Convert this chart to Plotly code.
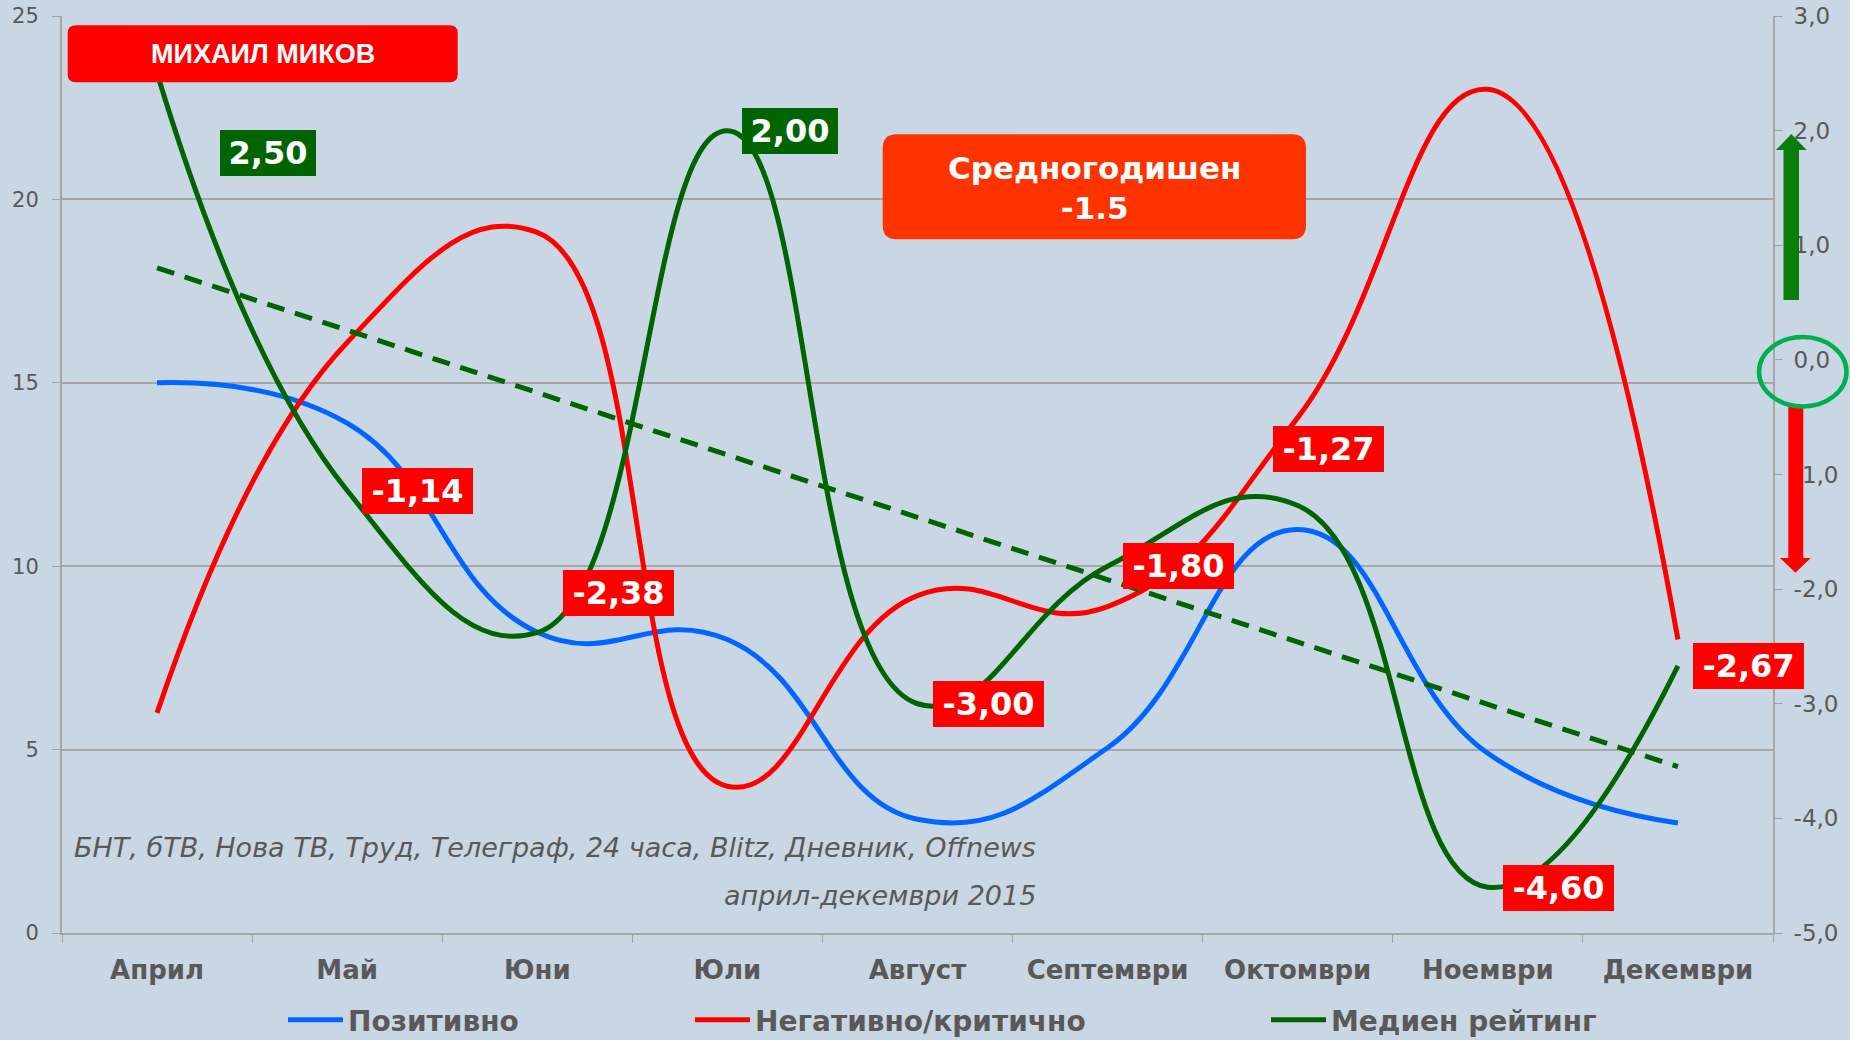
import numpy as np
import plotly.graph_objects as go

# ---------------- data ----------------
months = ["Април", "Май", "Юни", "Юли", "Август", "Септември", "Октомври", "Ноември", "Декември"]
positive = [15.0, 13.9, 8.2, 8.0, 3.1, 5.05, 11.0, 4.9, 3.0]
negative = [6.0, 16.1, 19.1, 4.0, 9.2, 8.9, 14.05, 23.0, 8.0]
rating = [2.50, -1.14, -2.38, 2.00, -3.00, -1.80, -1.27, -4.60, -2.67]
series_names = ["Позитивно", "Негативно/критично", "Медиен рейтинг"]
left_ticks = [0, 5, 10, 15, 20, 25]
right_ticks = [-5, -4, -3, -2, -1, 0, 1, 2, 3]
right_ticktext = [f"{v:.1f}".replace(".", ",") for v in right_ticks]
title_text = "МИХАИЛ МИКОВ"
average_text = "Средногодишен<br>-1.5"
source_line1 = "БНТ, бТВ, Нова ТВ, Труд, Телеграф, 24 часа, Blitz, Дневник, Offnews"
source_line2 = "април-декември 2015"

# label offsets (pixels) relative to each rating point
label_dx = [111, 70, 81, 63, 71, 71, 31, 71, 71]
label_dy = [-80, 0, 40, 0, 0, 0, 56, -1, 0]

# ---------------- layout geometry ----------------
W, H = 1850, 1040
ML, MR, MT, MB = 62, 77, 16, 107
PW, PH = W - ML - MR, H - MT - MB

def xp(px):
    return (px - ML) / PW

def yp(py):
    return (H - MB - py) / PH

def rrect(x0, y0, x1, y1, r):
    rx, ry = r / PW, r / PH
    a, b, c, d = xp(x0), xp(x1), yp(y1), yp(y0)  # a<b, c<d
    return (f"M{a+rx},{c} L{b-rx},{c} Q{b},{c} {b},{c+ry} L{b},{d-ry} Q{b},{d} {b-rx},{d} "
            f"L{a+rx},{d} Q{a},{d} {a},{d-ry} L{a},{c+ry} Q{a},{c} {a+rx},{c} Z")

def poly(pts):
    return "M" + " L".join(f"{xp(x)},{yp(y)}" for x, y in pts) + " Z"

GREEN = "#006400"
RED = "#FF0000"
BLUE = "#0066FF"
GRAY = "#595959"
AXIS = "#A6A6A6"
FONT = "DejaVu Sans"
SMOOTH = 1.3

# trend line of the rating series (linear regression)
xi = np.arange(len(months))
coef = np.polyfit(xi, rating, 1)
trend = np.polyval(coef, xi)

fig = go.Figure()
fig.add_trace(go.Scatter(x=months, y=positive, name=series_names[0], mode="lines",
                         line=dict(color=BLUE, width=5, shape="spline", smoothing=SMOOTH),
                         legend="legend"))
fig.add_trace(go.Scatter(x=months, y=negative, name=series_names[1], mode="lines",
                         line=dict(color=RED, width=5, shape="spline", smoothing=SMOOTH),
                         legend="legend2"))
fig.add_trace(go.Scatter(x=months, y=trend, mode="lines", showlegend=False, yaxis="y2",
                         line=dict(color=GREEN, width=5, dash="18px,11px")))
fig.add_trace(go.Scatter(x=months, y=rating, name=series_names[2], mode="lines", yaxis="y2",
                         line=dict(color=GREEN, width=5, shape="spline", smoothing=SMOOTH),
                         legend="legend3"))

annotations = []
for i, v in enumerate(rating):
    pos = v > 0
    annotations.append(dict(
        x=months[i], y=v, xref="x", yref="y2", showarrow=False,
        text=f"<b>{v:.2f}</b>".replace(".", ","),
        font=dict(family=FONT, size=32, color="white"),
        bgcolor=GREEN if pos else RED, borderwidth=0, borderpad=0,
        width=96 if pos else 111, height=46,
        xanchor="center", yanchor="middle",
        xshift=label_dx[i], yshift=label_dy[i]))

annotations.append(dict(x=xp(262.7), y=yp(54), xref="paper", yref="paper", showarrow=False,
                        text=f"<b>{title_text}</b>",
                        font=dict(family="Liberation Sans", size=27, color="white"),
                        xanchor="center", yanchor="middle"))
annotations.append(dict(x=xp(1094), y=yp(188), xref="paper", yref="paper", showarrow=False,
                        text=f"<b>{average_text}</b>",
                        font=dict(family=FONT, size=31, color="white"),
                        xanchor="center", yanchor="middle"))
annotations.append(dict(x=xp(1038), y=yp(847), xref="paper", yref="paper", showarrow=False,
                        text=source_line1, font=dict(family=FONT, size=27, color=GRAY, style="italic"),
                        xanchor="right", yanchor="middle"))
annotations.append(dict(x=xp(1038), y=yp(895), xref="paper", yref="paper", showarrow=False,
                        text=source_line2, font=dict(family=FONT, size=27, color=GRAY, style="italic"),
                        xanchor="right", yanchor="middle"))

shapes = [
    dict(type="path", xref="paper", yref="paper", path=rrect(67.7, 25.3, 457.7, 82.3, 8),
         fillcolor="#FF0000", line=dict(width=0)),
    dict(type="path", xref="paper", yref="paper", path=rrect(882.7, 134.3, 1306, 239.3, 14),
         fillcolor="#FF3300", line=dict(width=0)),
    dict(type="path", xref="paper", yref="paper",
         path=poly([(1783.5, 300), (1799, 300), (1799, 150), (1806.7, 150), (1791.3, 134),
                    (1776, 150), (1783.5, 150)]),
         fillcolor="#0B7D0B", line=dict(width=0)),
    dict(type="path", xref="paper", yref="paper",
         path=poly([(1788.3, 406), (1803.3, 406), (1803.3, 558), (1810.7, 558), (1795.5, 572.7),
                    (1780, 558), (1788.3, 558)]),
         fillcolor="#FF0000", line=dict(width=0)),
    dict(type="circle", xref="paper", yref="paper", x0=xp(1759), x1=xp(1846.5),
         y0=yp(406.5), y1=yp(337), line=dict(color="#00B050", width=4.5)),
]

legend_common = dict(orientation="h", yanchor="middle", y=yp(1020), xanchor="left",
                     bgcolor="rgba(0,0,0,0)", itemwidth=55,
                     font=dict(family=FONT, size=28, color=GRAY, weight="bold"))

fig.update_layout(
    width=W, height=H,
    margin=dict(l=ML, r=MR, t=MT, b=MB, autoexpand=False),
    paper_bgcolor="#C9D6E3", plot_bgcolor="#C9D6E3",
    showlegend=True,
    legend=dict(legend_common, x=xp(283)),
    legend2=dict(legend_common, x=xp(690)),
    legend3=dict(legend_common, x=xp(1266)),
    xaxis=dict(type="category", categoryorder="array", categoryarray=months,
               range=[-0.5, len(months) - 0.5], showgrid=False, automargin=False,
               showline=True, linecolor=AXIS, linewidth=2,
               ticks="outside", tickson="boundaries", ticklen=8, tickcolor=AXIS, tickwidth=1,
               tickfont=dict(family=FONT, size=26, color=GRAY, weight="bold"),
               ticklabelstandoff=13),
    yaxis=dict(range=[0, 25], tickvals=left_ticks, showgrid=True, gridcolor=AXIS, gridwidth=2,
               zeroline=False, showline=True, linecolor=AXIS, linewidth=2, automargin=False,
               ticks="outside", ticklen=8, tickcolor=AXIS,
               tickfont=dict(family=FONT, size=21, color=GRAY), ticklabelstandoff=9),
    yaxis2=dict(range=[-5, 3], tickvals=right_ticks, ticktext=right_ticktext,
                overlaying="y", side="right", automargin=False,
                showgrid=False, zeroline=False, showline=True, linecolor=AXIS, linewidth=2,
                ticks="outside", ticklen=8, tickcolor=AXIS,
                tickfont=dict(family=FONT, size=23, color=GRAY), ticklabelstandoff=6),
    annotations=annotations,
    shapes=shapes,
)

fig.write_html("out.html", config={"displayModeBar": False},
               post_script="document.body.style.margin='0';document.body.style.overflow='hidden';")
